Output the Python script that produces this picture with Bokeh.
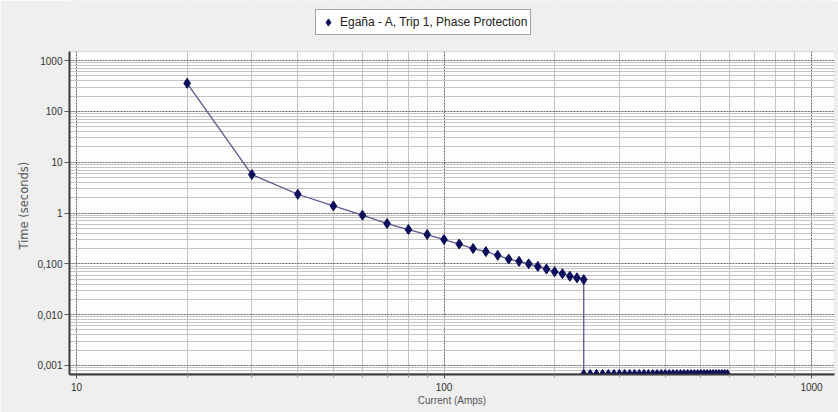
from bokeh.plotting import figure
from bokeh.models import Range1d, FixedTicker, Legend, LegendItem, BoxAnnotation, Title
from bokeh.embed import file_html
from bokeh.resources import INLINE

# ---- data ----
series_name = "Egaña - A, Trip 1, Phase Protection"

current_amps = [20, 30, 40, 50, 60, 70, 80, 90, 100,
                110, 120, 130, 140, 150, 160, 170, 180, 190, 200,
                210, 220, 230, 240,
                240, 250, 260, 270, 280, 290, 300, 310, 320, 330,
                340, 350, 360, 370, 380, 390, 400, 410, 420, 430,
                440, 450, 460, 470, 480, 490, 500, 510, 520, 530,
                540, 550, 560, 570, 580, 590]

trip_time_s = [357, 5.7, 2.34, 1.38, 0.905, 0.62, 0.473, 0.377, 0.301,
               0.245, 0.200, 0.174, 0.147, 0.124, 0.112, 0.100, 0.089, 0.079, 0.070,
               0.064, 0.057, 0.053, 0.049,
               0.000665, 0.000665, 0.000665, 0.000665, 0.000665, 0.000665, 0.000665,
               0.000665, 0.000665, 0.000665, 0.000665, 0.000665, 0.000665, 0.000665,
               0.000665, 0.000665, 0.000665, 0.000665, 0.000665, 0.000665, 0.000665,
               0.000665, 0.000665, 0.000665, 0.000665, 0.000665, 0.000665, 0.000665,
               0.000665, 0.000665, 0.000665, 0.000665, 0.000665, 0.000665, 0.000665,
               0.000665]

x_ticks = [10, 100, 1000]
x_tick_labels = ["10", "100", "1000"]
y_ticks = [0.001, 0.01, 0.1, 1, 10, 100, 1000]
y_tick_labels = ["0,001", "0,010", "0,100", "1", "10", "100", "1000"]
minor_mantissas = [2, 3, 4, 5, 6, 7, 8, 9]

# plot-area limits (the chart's visible axis extents)
X_MIN, X_MAX = 9.57, 1155
Y_MIN, Y_MAX = 0.000665, 1503
Y_FRAME_TOP = 15170   # extra room above the plot area that hosts the legend

x_minor = [m * d for d in [1, 10, 100] for m in minor_mantissas]
y_minor = [m * d for d in [0.0001, 0.001, 0.01, 0.1, 1, 10, 100] for m in minor_mantissas]

FONT = "Liberation Sans"
BG = "#efefef"

p = figure(width=838, height=412, x_axis_type="log", y_axis_type="log",
           x_range=Range1d(X_MIN, X_MAX), y_range=Range1d(Y_MIN, Y_FRAME_TOP),
           output_backend="svg", toolbar_location=None,
           min_border_left=69, min_border_right=4, min_border_top=0, min_border_bottom=38)

p.border_fill_color = BG
p.background_fill_color = BG
p.outline_line_color = None

# white plot area (drawn below grids)
p.add_layout(BoxAnnotation(top=Y_MAX, fill_color="#fdfdfd", fill_alpha=1,
                           line_color=None, level="image"))

# axes
p.xaxis.ticker = FixedTicker(ticks=x_ticks, minor_ticks=x_minor)
p.yaxis.ticker = FixedTicker(ticks=y_ticks, minor_ticks=y_minor)
p.xaxis.major_label_overrides = dict(zip(x_ticks, x_tick_labels))
p.yaxis.major_label_overrides = dict(zip(y_ticks, y_tick_labels))
p.yaxis.bounds = (Y_MIN, Y_MAX)

for ax in (p.xaxis[0], p.yaxis[0]):
    ax.axis_line_color = "#3a3a3a"
    ax.axis_line_width = 2
    ax.major_tick_line_color = "#555555"
    ax.minor_tick_line_color = "#999999"
    ax.major_tick_in = 0
    ax.minor_tick_in = 0
    ax.major_label_text_font = FONT
    ax.major_label_text_font_size = "10px"
    ax.major_label_text_color = "#333333"
    ax.axis_label_text_font_style = "normal"
    ax.axis_label_text_color = "#555555"

p.xaxis.major_tick_out = 4
p.xaxis.minor_tick_out = 3
p.xaxis.major_label_standoff = 4
p.xaxis.axis_label = "Current (Amps)"
p.xaxis.axis_label_text_font = FONT
p.xaxis.axis_label_text_font_size = "10px"
p.xaxis.axis_label_standoff = 1

p.yaxis.major_tick_out = 5
p.yaxis.minor_tick_out = 0
p.yaxis.major_label_standoff = 2

ytitle = Title(text="Time (seconds)", align="left", offset=125,
               text_font="DejaVu Sans", text_font_size="11.5px",
               text_font_style="normal", text_color="#555555", standoff=7)
p.add_layout(ytitle, "left")

# grid
for g in (p.xgrid[0], p.ygrid[0]):
    g.grid_line_color = "#666666"
    g.grid_line_dash = "2 1"
    g.grid_line_width = 1
    g.minor_grid_line_color = "#c4c4c4"
    g.minor_grid_line_width = 1

# hide grid above the plot area, then draw the plot-area border
p.add_layout(BoxAnnotation(bottom=Y_MAX, fill_color=BG, fill_alpha=1,
                           line_color=None, level="underlay"))
p.add_layout(BoxAnnotation(top=Y_MAX, fill_alpha=0, line_color="#9a9a9a",
                           line_width=1, level="underlay"))

# series
line_r = p.line(current_amps, trip_time_s, line_color="#5a5a8e", line_width=1.3)
pts_r = p.scatter(current_amps, trip_time_s, marker="diamond",
                  size=10, fill_color="#0c0c5c", line_color="#0c0c5c")

legend = Legend(items=[LegendItem(label=series_name, renderers=[pts_r])],
                location=(246, 339))
legend.border_line_color = "#444444"
legend.border_line_width = 1
legend.background_fill_color = "white"
legend.background_fill_alpha = 1
legend.label_text_font = FONT
legend.label_text_font_size = "12px"
legend.label_text_color = "#222222"
legend.padding = 3
legend.spacing = 0
legend.margin = 0
legend.glyph_width = 18
legend.glyph_height = 18
legend.label_height = 14
legend.label_standoff = 3
p.add_layout(legend)

open("out.html", "w").write(file_html(p, INLINE))
